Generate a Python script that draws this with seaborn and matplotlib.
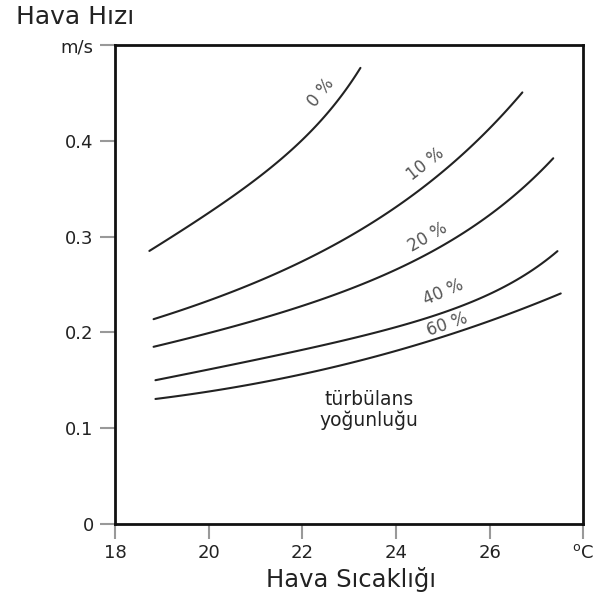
import matplotlib
matplotlib.use("Agg")
import matplotlib.pyplot as plt
import seaborn as sns
import pandas as pd
import numpy as np

# air temperature (°C) and air speed (m/s)
x_0 = [18.73, 19.25, 19.96, 20.67, 21.39, 22.10, 22.81, 23.24]
y_0 = [0.285, 0.301, 0.324, 0.348, 0.374, 0.406, 0.446, 0.476]

x_10 = [18.82, 19.96, 20.60, 21.03, 22.10, 23.24, 23.95, 24.67, 25.38, 26.09, 26.70]
y_10 = [0.212, 0.235, 0.244, 0.254, 0.279, 0.303, 0.327, 0.354, 0.388, 0.420, 0.448]

x_20 = [18.82, 19.96, 21.39, 23.24, 23.95, 24.67, 25.38, 26.09, 26.81, 27.36]
y_20 = [0.181, 0.202, 0.225, 0.2455, 0.261, 0.279, 0.303, 0.331, 0.357, 0.379]

x_40 = [18.86, 19.96, 21.39, 23.24, 23.95, 24.67, 25.38, 26.09, 26.81, 27.45]
y_40 = [0.148, 0.162, 0.179, 0.195, 0.204, 0.214, 0.226, 0.244, 0.263, 0.284]

x_60 = [18.86, 19.96, 21.39, 23.45, 25.38, 26.09, 26.81, 27.52]
y_60 = [0.130, 0.139, 0.151, 0.171, 0.202, 0.216, 0.226, 0.240]

curve_labels = ["0 %", "10 %", "20 %", "40 %", "60 %"]
x_ticks = [18, 20, 22, 24, 26, 28]
x_ticklabels = ["18", "20", "22", "24", "26", "$^{\\mathrm{o}}$C"]
y_ticks = [0, 0.1, 0.2, 0.3, 0.4, 0.5]
y_ticklabels = ["0", "0.1", "0.2", "0.3", "0.4", "m/s"]


def convex_fit(xs, ys, n=100):
    # y = c0 + c1*x + a*exp(k*x), k picked by a small grid search
    xs = np.asarray(xs)
    ys = np.asarray(ys)
    x0 = xs[0]
    best = None
    for k in np.linspace(0.05, 2.0, 200):
        A = np.column_stack([np.ones_like(xs), xs - x0, np.exp(k * (xs - x0))])
        coef, *_ = np.linalg.lstsq(A, ys, rcond=None)
        if coef[2] < 0:
            continue
        err = np.sum((A @ coef - ys) ** 2)
        if best is None or err < best[0]:
            best = (err, k, coef)
    _, k, coef = best
    xx = np.linspace(xs[0], xs[-1], n)
    yy = coef[0] + coef[1] * (xx - x0) + coef[2] * np.exp(k * (xx - x0))
    return xx, yy


sns.set_style("white")
plt.rcParams["font.family"] = ["DejaVu Sans"]

fig = plt.figure(figsize=(6, 6.01), dpi=100)
ax = fig.add_axes([0.192, 0.128, 0.78, 0.797])

curves = [(x_0, y_0), (x_10, y_10), (x_20, y_20), (x_40, y_40), (x_60, y_60)]

smooth = []
for lab, (xs, ys) in zip(curve_labels, curves):
    xx, yy = convex_fit(xs, ys)
    smooth.append(pd.DataFrame({"temp": xx, "speed": yy, "curve": lab}))
sdf = pd.concat(smooth, ignore_index=True)

sns.lineplot(data=sdf, x="temp", y="speed", units="curve", estimator=None,
             color="#222222", linewidth=1.5, ax=ax, legend=False)

# curve labels along the lines
label_pos = [(22.40, 0.450, 51), (24.64, 0.376, 38), (24.68, 0.299, 30),
             (25.02, 0.2425, 23), (25.10, 0.208, 19)]
for lab, (tx, ty, rot) in zip(curve_labels, label_pos):
    ax.text(tx, ty, lab, rotation=rot, ha="center", va="center",
            fontsize=12, color="#555555")

ax.text(23.42, 0.1195, "türbülans\nyoğunluğu", ha="center", va="center",
        fontsize=13.5, color="#222222", linespacing=1.1)

ax.set_xlim(18, 28)
ax.set_ylim(0, 0.5)
ax.set_xticks(x_ticks)
ax.set_xticklabels(x_ticklabels, fontsize=13)
ax.set_yticks(y_ticks)
ax.set_yticklabels(y_ticklabels, fontsize=13)
ax.tick_params(axis="both", direction="out", length=10.5, width=1.5,
               color="#999999", labelcolor="#222222", bottom=True, left=True)
ax.tick_params(axis="x", pad=4)
ax.tick_params(axis="y", pad=5)
ax.set_xlabel("")
ax.set_ylabel("")
for sp in ax.spines.values():
    sp.set_visible(True)
    sp.set_color("#111111")
    sp.set_linewidth(2)

fig.text(0.027, 0.972, "Hava Hızı", fontsize=18, color="#222222",
         ha="left", va="center")
fig.text(0.585, 0.035, "Hava Sıcaklığı", fontsize=17.5, color="#222222",
         ha="center", va="center")

fig.savefig("out.png", dpi=100)
